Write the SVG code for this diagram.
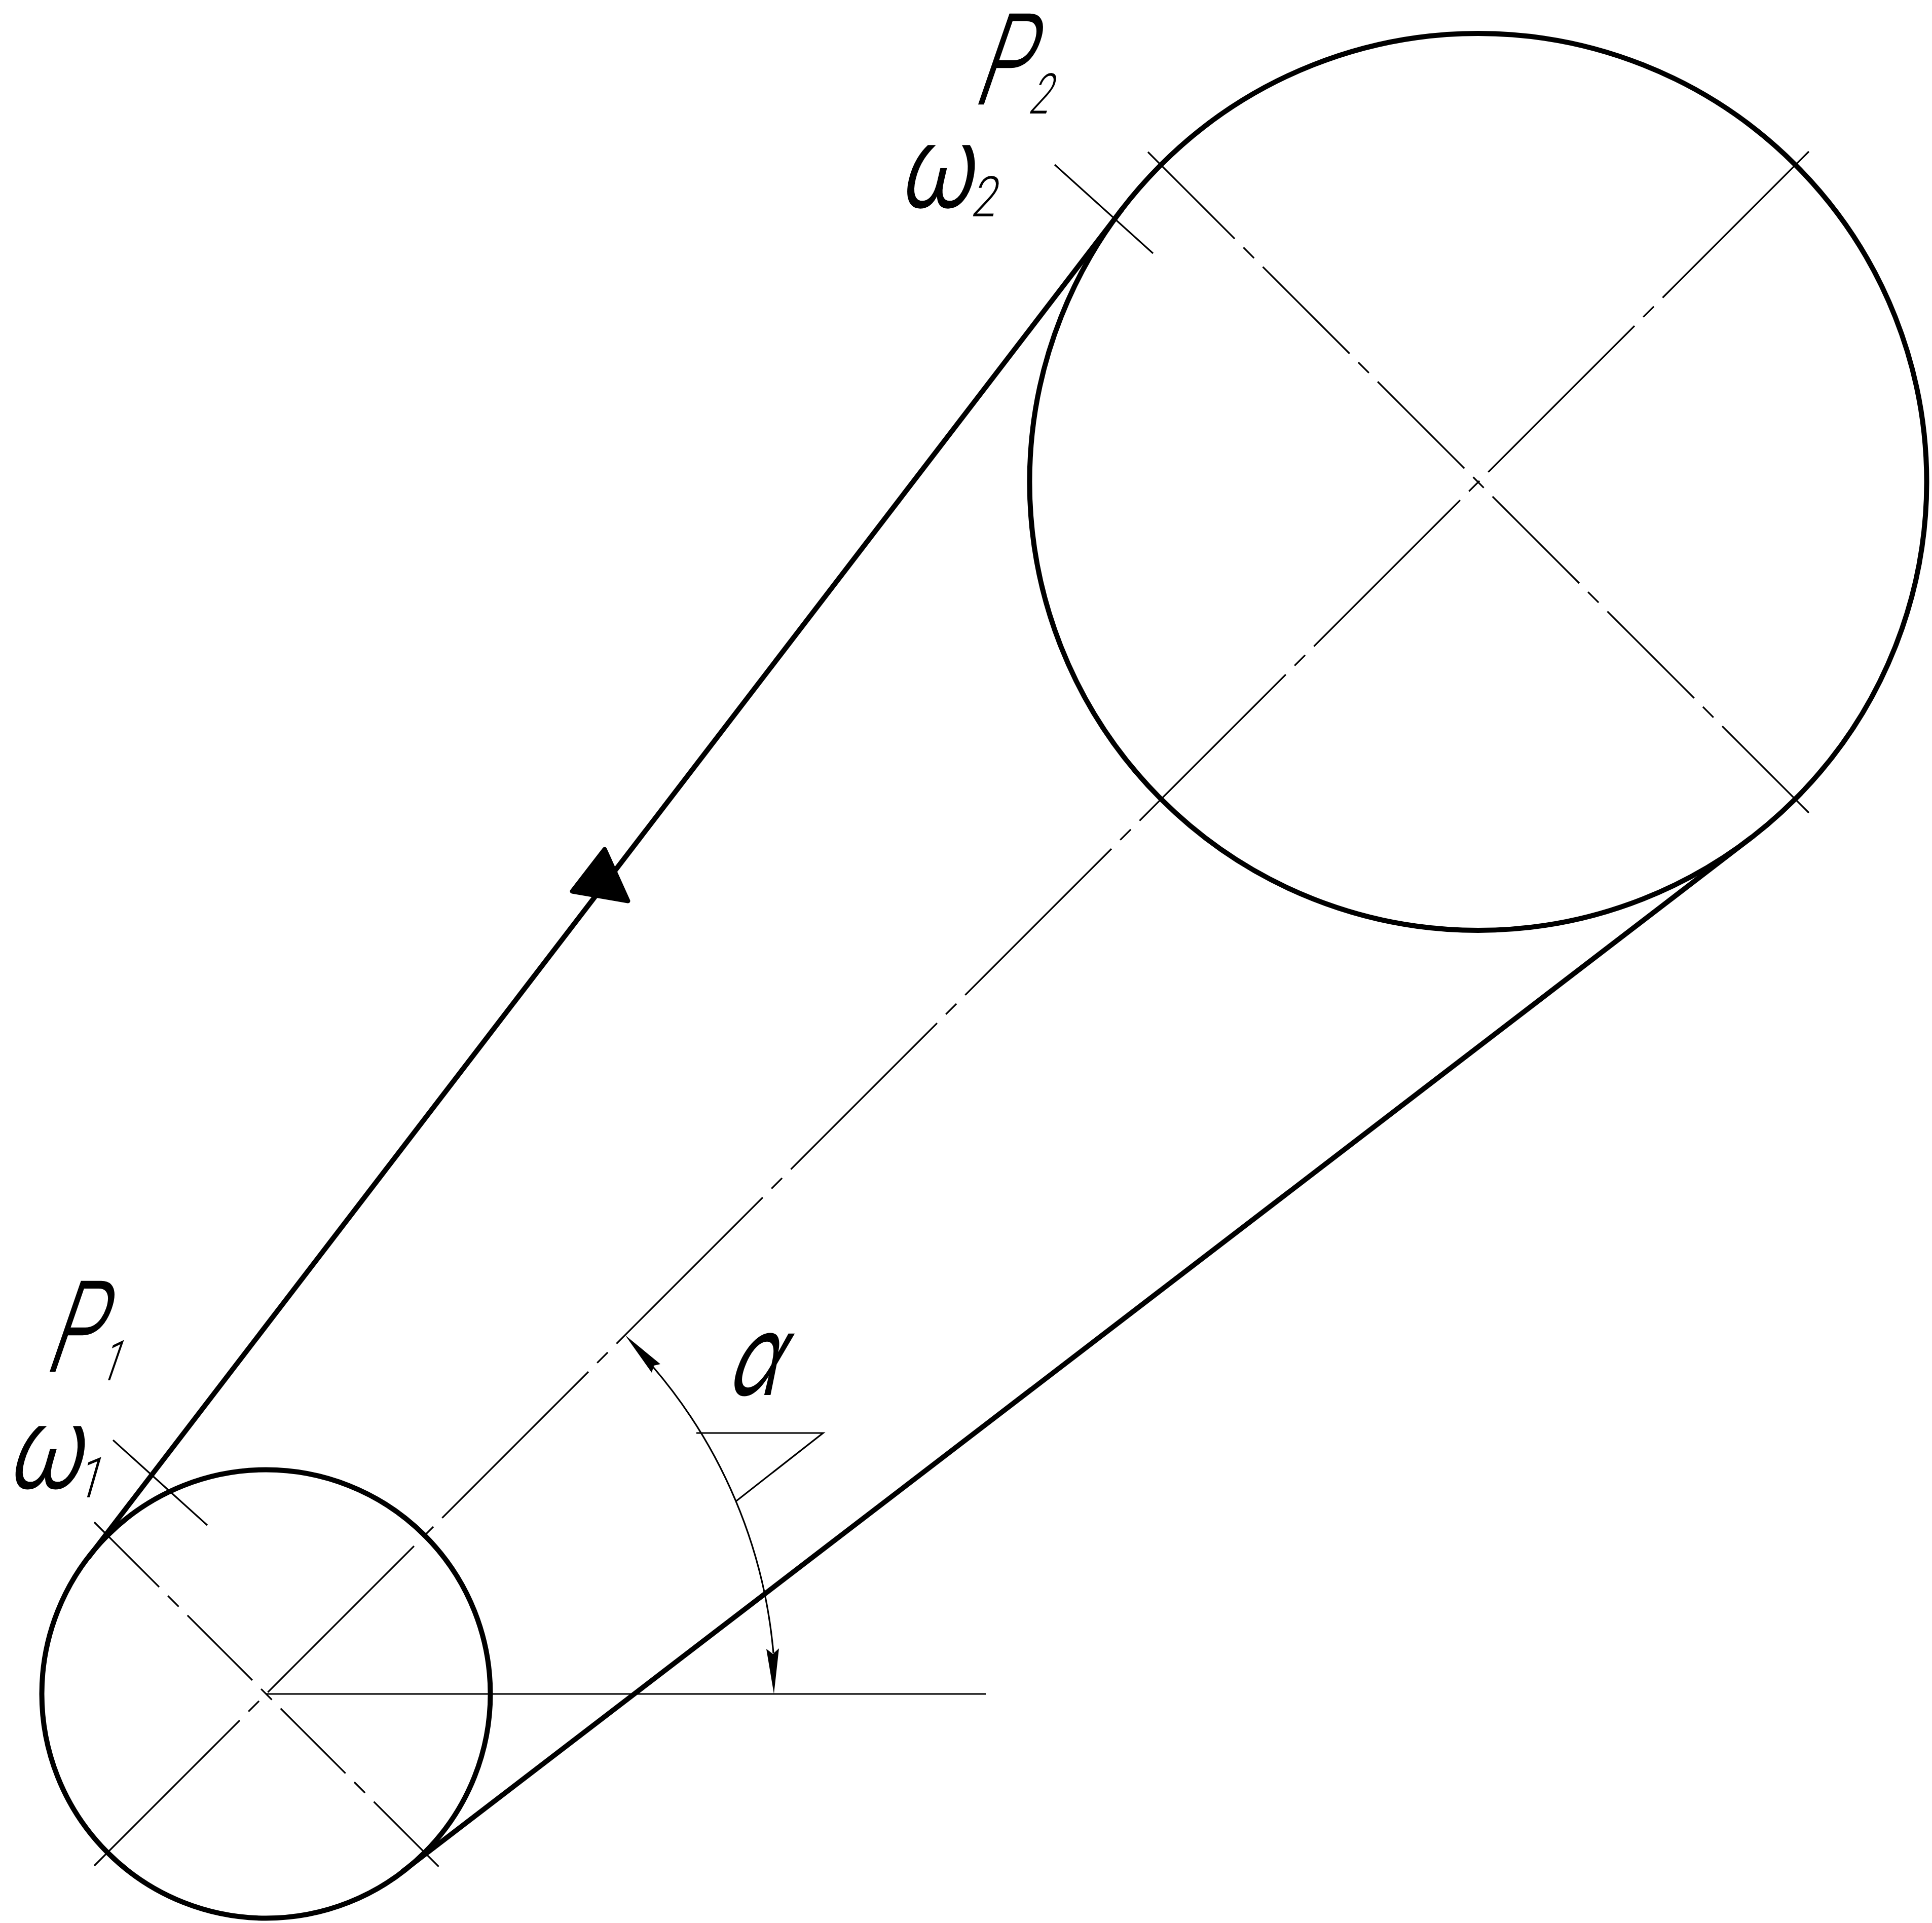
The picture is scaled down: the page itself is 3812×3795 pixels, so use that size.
<svg xmlns="http://www.w3.org/2000/svg" width="3812" height="3795" viewBox="0 0 3812 3795">
<style>
.thick{fill:none;stroke:#000;stroke-width:10}
.thin{fill:none;stroke:#000;stroke-width:3.2}
.big{stroke-dasharray:242 24.5 29.5 24.5}
.axis{stroke-dasharray:408 24.5 29.5 24.5}
.small{stroke-dasharray:181 24.5 30 24.5}
.head{fill:#000;stroke:none}
text{fill:#000}
.p{font-family:Roboto,"Liberation Sans",sans-serif;font-weight:300;stroke:#000;stroke-width:2.5}
.g{font-family:Inter,"DejaVu Sans",sans-serif;font-weight:300;stroke:#000;stroke-width:2}
.a{font-family:Inter,"DejaVu Sans",sans-serif;font-weight:400}
.sub{font-family:Roboto,"Liberation Sans",sans-serif;font-weight:300;stroke:none}
</style>
<rect width="3812" height="3795" fill="#fff"/>
<g id="centerlines">
<line class="thin axis" x1="3569" y1="299" x2="186" y2="3682"/>
<line class="thin big" x1="2265" y1="300" x2="3569" y2="1604"/>
<line class="thin small" x1="186" y1="3004" x2="867" y2="3685"/>
<line class="thin" x1="525" y1="3343" x2="1945" y2="3343"/>
<line class="thin" x1="2081" y1="325" x2="2275" y2="500"/>
<line class="thin" x1="223" y1="2842" x2="409" y2="3010"/>
</g>
<g id="pulley-large"><circle class="thick" cx="2916.5" cy="951" r="885"/></g>
<g id="pulley-small"><circle class="thick" cx="525" cy="3343" r="442.5"/></g>
<g id="belt">
<line class="thick" x1="174.2" y1="3074" x2="2214.2" y2="412.5"/>
<line class="thick" x1="793.9" y1="3693.8" x2="3454.9" y2="1653.4"/>
<polygon points="1193,1676 1129,1759 1239,1778" fill="#000" stroke="#000" stroke-width="9" stroke-linejoin="round"/>
</g>
<g id="angle-dimension">
<path class="thin" d="M1526,3262 A1002,1002 0 0 0 1288,2697"/>
<polygon class="head" points="1527,3343 1512,3254 1525,3264 1537,3253"/>
<polygon class="head" points="1233.5,2635 1303,2692 1290,2695 1286,2709"/>
<polyline class="thin" points="1374,2828 1624,2828 1453,2962"/>
</g>
<g id="labels">
<text class="p" transform="translate(1927,205) skewX(-19) scale(.65,1)" font-size="249" x="-16">P<tspan class="sub" x="164" y="19" font-size="111">2</tspan></text>
<text class="g" transform="translate(1789,409) skewX(-13) scale(.8,1)" font-size="223" x="-22">ω<tspan class="sub" x="161" y="18" font-size="111">2</tspan></text>
<text class="p" transform="translate(95,2706) skewX(-19) scale(.65,1)" font-size="249" x="-16">P<tspan class="sub" x="160" y="18" font-size="111">1</tspan></text>
<text class="g" transform="translate(28,2937) skewX(-16) scale(.8,1)" font-size="223" x="-22">ω<tspan class="sub" x="155" y="18" font-size="111">1</tspan></text>
<text class="a" transform="translate(1430,2753) skewX(-22) scale(.68,1)" font-size="222" x="-6">α</text>
</g>
</svg>
